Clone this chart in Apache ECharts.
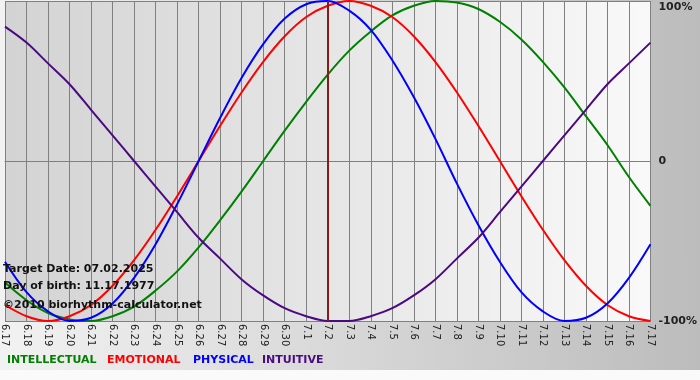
<!DOCTYPE html>
<html>
<head>
<meta charset="utf-8">
<script src="https://cdn.jsdelivr.net/npm/echarts@6/dist/echarts.min.js"></script>
<style>
html,body{margin:0;padding:0;}
#wrap{width:700px;height:380px;position:relative;
  background:linear-gradient(to bottom, transparent 0, transparent 370px, #fafafa 370px),
             linear-gradient(to right, #f2f2f2 0%, #bcbcbc 100%);}
#chart{width:700px;height:380px;}
</style>
</head>
<body>
<div id="wrap"><div id="chart"></div></div>
<script>
const categories = ['6.17','6.18','6.19','6.20','6.21','6.22','6.23','6.24','6.25','6.26','6.27','6.28','6.29','6.30',
  '7.1','7.2','7.3','7.4','7.5','7.6','7.7','7.8','7.9','7.10','7.11','7.12','7.13','7.14','7.15','7.16','7.17'];
const intellectual = [-0.76,-0.87,-0.95,-0.99,-1.00,-0.97,-0.91,-0.81,-0.69,-0.54,-0.37,-0.19,0.00,0.19,0.37,0.54,
  0.69,0.81,0.91,0.97,1.00,0.99,0.95,0.87,0.76,0.62,0.46,0.28,0.10,-0.10,-0.28];
const emotional = [-0.90,-0.97,-1.00,-0.97,-0.90,-0.78,-0.62,-0.43,-0.22,0.00,0.22,0.43,0.62,0.78,0.90,0.97,
  1.00,0.97,0.90,0.78,0.62,0.43,0.22,0.00,-0.22,-0.43,-0.62,-0.78,-0.90,-0.97,-1.00];
const physical = [-0.63,-0.82,-0.94,-1.00,-0.98,-0.89,-0.73,-0.52,-0.27,0.00,0.27,0.52,0.73,0.89,0.98,1.00,
  0.94,0.82,0.63,0.40,0.14,-0.14,-0.40,-0.63,-0.82,-0.94,-1.00,-0.98,-0.89,-0.73,-0.52];
const intuitive = [0.84,0.74,0.61,0.48,0.32,0.16,0.00,-0.16,-0.32,-0.48,-0.61,-0.74,-0.84,-0.92,-0.97,-1.00,
  -1.00,-0.97,-0.92,-0.84,-0.74,-0.61,-0.48,-0.32,-0.16,0.00,0.16,0.32,0.48,0.61,0.74];
const targetDay = '7.2';
const yTickLabels = {'1':'100%','0':'0','-1':'-100%'};
const infoLines = ['Target Date: 07.02.2025','Day of birth: 11.17.1977','\u00A92010 biorhythm-calculator.net'];
const legendNames = ['INTELLECTUAL','EMOTIONAL','PHYSICAL','INTUITIVE'];
const colors = ['#008000','#ff0000','#0000ff','#4b0a82'];

const font = 'DejaVu Sans, Verdana, sans-serif';
const chart = echarts.init(document.getElementById('chart'), null, {renderer:'canvas'});

function mkSeries(name, data, color, extra){
  return Object.assign({
    name: name, type:'line', data: data, smooth: 0.33, symbol:'none',
    lineStyle:{color: color, width: 2}, itemStyle:{color: color}, z: 3
  }, extra || {});
}

const legendX = [7, 107, 193, 262];
const infoY = [271, 288, 307];

chart.setOption({
  backgroundColor: 'transparent',
  animation: false,
  grid: {
    left: 1, right: 49, top: 1, bottom: 59, show: true,
    borderWidth: 0,
    backgroundColor: new echarts.graphic.LinearGradient(0,0,1,0,[
      {offset:0,color:'#d3d3d3'},{offset:1,color:'#f9f9f9'}])
  },
  xAxis: {
    type:'category', data: categories, boundaryGap:false,
    axisLine:{show:true, lineStyle:{color:'#808080', width:1}},
    axisTick:{show:false},
    splitLine:{show:true, lineStyle:{color:'#808080', width:1}},
    axisLabel:{interval:0, rotate:-90, color:'#222', fontFamily:font, fontSize:10, margin:3}
  },
  yAxis: {
    type:'value', min:-1, max:1, interval:1, position:'right',
    axisLine:{show:false}, axisTick:{show:false},
    splitLine:{show:true, lineStyle:{color:'#808080', width:1}},
    axisLabel:{
      color:'#222', fontFamily:font, fontSize:11, fontWeight:'bold', margin:8,
      formatter: v => v === 1 ? '{top|' + yTickLabels[String(v)] + '}' : yTickLabels[String(v)],
      rich:{top:{color:'#222', fontFamily:font, fontSize:11, fontWeight:'bold', padding:[12,0,0,0]}}
    }
  },
  series: [
    mkSeries(legendNames[0], intellectual, colors[0]),
    mkSeries(legendNames[1], emotional, colors[1]),
    mkSeries(legendNames[2], physical, colors[2]),
    mkSeries(legendNames[3], intuitive, colors[3], {
      markLine:{
        silent:true, symbol:['none','none'], label:{show:false},
        lineStyle:{color:'#8b1a1a', width:2, type:'solid'},
        data:[{xAxis: targetDay}]
      }
    })
  ],
  graphic: [
    ...infoLines.map((t,i) => ({
      type:'text', left: 3, top: infoY[i] - 7, z: 100,
      style:{text:t, fill:'#111', font:'bold 11px ' + font}
    })),
    ...legendNames.map((t,i) => ({
      type:'text', left: legendX[i], top: 355, z: 100,
      style:{text:t, fill: colors[i], font:'bold 11px ' + font}
    }))
  ]
});
</script>
</body>
</html>
